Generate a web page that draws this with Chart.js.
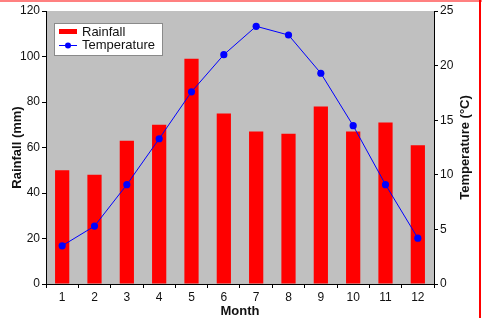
<!DOCTYPE html>
<html>
<head>
<meta charset="utf-8">
<script src="https://cdn.jsdelivr.net/npm/chart.js@4"></script>
<style>
  html, body { margin: 0; padding: 0; background: #fff; overflow: hidden; }
  #wrap { position: relative; width: 482px; height: 318px; }
  #topLine { position: absolute; left: 0; top: 0; width: 482px; height: 2px; background: #ff8080; }
  #rightLine { position: absolute; left: 479px; top: 0; width: 2px; height: 318px; background: #ff0000; }
</style>
</head>
<body>
<div id="wrap">
  <canvas id="chart" width="482" height="318"></canvas>
  <div id="topLine"></div>
  <div id="rightLine"></div>
</div>
<script>
// --- Data ---
const months = ['1', '2', '3', '4', '5', '6', '7', '8', '9', '10', '11', '12'];
const rainfall = [50, 48, 63, 70, 99, 75, 67, 66, 78, 67, 71, 61];
const temperature = [3.5, 5.3, 9.1, 13.3, 17.6, 21.0, 23.6, 22.8, 19.3, 14.5, 9.1, 4.2];
const rainTicks = [0, 20, 40, 60, 80, 100, 120];
const tempTicks = [0, 5, 10, 15, 20, 25];

const FONT = "'Liberation Sans', Arial, sans-serif";
const TEXT = '#111';

// --- Plugins ---
const plotBackground = {
  id: 'plotBackground',
  beforeDraw(chart) {
    const { ctx, chartArea: a } = chart;
    ctx.save();
    ctx.fillStyle = '#c0c0c0';
    ctx.fillRect(a.left, a.top, a.right - a.left, a.bottom - a.top);
    ctx.restore();
  }
};

const boxLegend = {
  id: 'boxLegend',
  afterDraw(chart) {
    const ctx = chart.ctx;
    ctx.save();
    // box
    ctx.fillStyle = '#fff';
    ctx.fillRect(54.5, 23.5, 108, 32);
    ctx.strokeStyle = '#8a8a8a';
    ctx.lineWidth = 1;
    ctx.strokeRect(54.5, 23.5, 108, 32);
    // rainfall swatch
    ctx.fillStyle = '#ff0000';
    ctx.fillRect(59, 29, 18, 5);
    // temperature swatch
    ctx.strokeStyle = '#0000ff';
    ctx.beginPath();
    ctx.moveTo(59, 45.5);
    ctx.lineTo(77, 45.5);
    ctx.stroke();
    ctx.fillStyle = '#0000ff';
    ctx.beginPath();
    ctx.arc(68, 45.5, 3, 0, Math.PI * 2);
    ctx.fill();
    // labels
    ctx.fillStyle = TEXT;
    ctx.font = '13px ' + FONT;
    ctx.textBaseline = 'middle';
    ctx.textAlign = 'left';
    ctx.fillText('Rainfall', 82, 32);
    ctx.fillText('Temperature', 82, 45.5);
    ctx.restore();
  }
};

// right axis title reads bottom-to-top like the left one
const rightTitle = {
  id: 'rightTitle',
  afterDraw(chart) {
    const { ctx, chartArea: a } = chart;
    ctx.save();
    ctx.translate(465, (a.top + a.bottom) / 2);
    ctx.rotate(-Math.PI / 2);
    ctx.fillStyle = TEXT;
    ctx.font = 'bold 13px ' + FONT;
    ctx.textAlign = 'center';
    ctx.textBaseline = 'middle';
    ctx.fillText('Temperature (°C)', 0, 0);
    ctx.restore();
  }
};

// --- Chart ---
const chart = new Chart(document.getElementById('chart'), {
  type: 'bar',
  data: {
    labels: months,
    datasets: [
      {
        type: 'line',
        label: 'Temperature',
        data: temperature,
        yAxisID: 'y1',
        borderColor: '#0000ff',
        backgroundColor: '#0000ff',
        borderWidth: 1,
        pointRadius: 3.6,
        pointBorderWidth: 0,
        pointBackgroundColor: '#0000ff',
        tension: 0,
        order: 0
      },
      {
        label: 'Rainfall',
        data: rainfall,
        yAxisID: 'y',
        backgroundColor: '#ff0000',
        borderWidth: 0,
        categoryPercentage: 1,
        barPercentage: 0.44,
        order: 1
      }
    ]
  },
  options: {
    responsive: false,
    animation: false,
    devicePixelRatio: 1,
    layout: { padding: { top: 11, left: 0, right: 0, bottom: 0 } },
    plugins: {
      legend: { display: false },
      tooltip: { enabled: false }
    },
    scales: {
      x: {
        grid: { display: true, drawOnChartArea: false, drawTicks: true, tickLength: 4, tickColor: '#000', offset: true },
        border: { display: true, color: '#000', width: 1 },
        ticks: { color: TEXT, font: { family: FONT, size: 12 }, padding: 2, maxRotation: 0 },
        title: { display: true, text: 'Month', color: TEXT, font: { family: FONT, size: 13, weight: 'bold' }, padding: { top: 0, bottom: -1 } },
        afterFit(scale) { scale.height = 34; }
      },
      y: {
        position: 'left',
        min: 0,
        max: 120,
        afterBuildTicks(scale) { scale.ticks = rainTicks.map(v => ({ value: v })); },
        grid: { display: true, drawOnChartArea: false, drawTicks: true, tickLength: 4, tickColor: '#000' },
        border: { display: true, color: '#000', width: 1 },
        ticks: { color: TEXT, font: { family: FONT, size: 12 }, padding: 2 },
        title: { display: true, text: 'Rainfall (mm)', color: TEXT, font: { family: FONT, size: 13, weight: 'bold' }, padding: { top: 10, bottom: 0 } },
        afterFit(scale) { scale.width = 46; }
      },
      y1: {
        position: 'right',
        min: 0,
        max: 25,
        afterBuildTicks(scale) { scale.ticks = tempTicks.map(v => ({ value: v })); },
        grid: { display: true, drawOnChartArea: false, drawTicks: true, tickLength: 4, tickColor: '#000' },
        border: { display: true, color: '#000', width: 1 },
        ticks: { color: TEXT, font: { family: FONT, size: 12 }, padding: 2 },
        title: { display: false },
        afterFit(scale) { scale.width = 48; }
      }
    }
  },
  plugins: [plotBackground, boxLegend, rightTitle]
});
</script>
</body>
</html>
